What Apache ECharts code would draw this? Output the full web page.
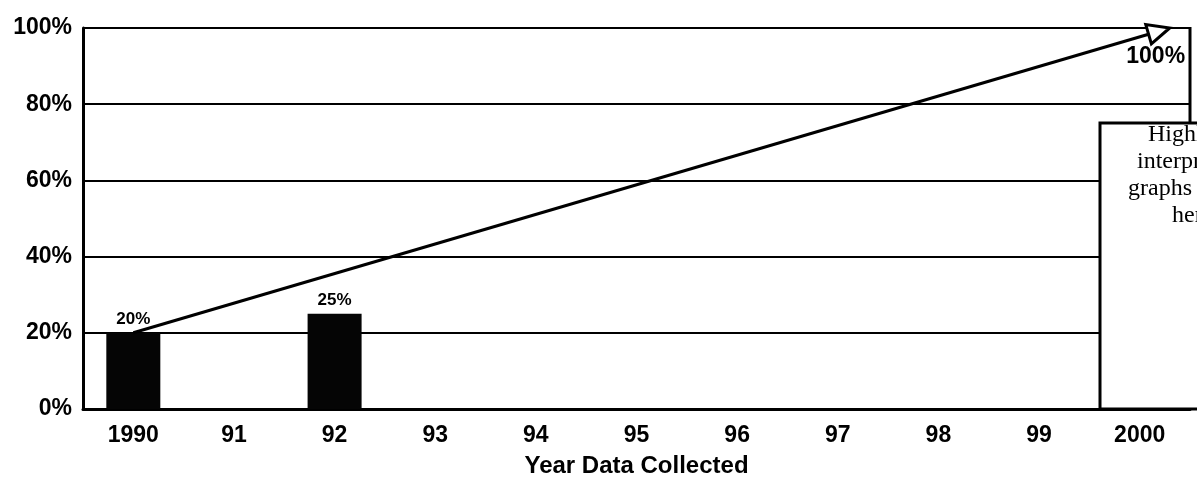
<!DOCTYPE html>
<html>
<head>
<meta charset="utf-8">
<script src="https://cdn.jsdelivr.net/npm/echarts@6/dist/echarts.min.js"></script>
<style>
  html, body { margin: 0; padding: 0; background: #fff; }
  #chart { width: 1197px; height: 486px; }
</style>
</head>
<body>
<div id="chart"></div>
<script>
// Survey years on the horizontal axis
const years = ['1990', '91', '92', '93', '94', '95', '96', '97', '98', '99', '2000'];
// Share of data collected in each year (percent); '-' = no bar
const collected = [20, '-', 25, '-', '-', '-', '-', '-', '-', '-', '-'];
// Projected trend: from the first survey to the 2000 target
const trendYears = ['1990', '2000'];
const trendValues = [20, 100];
// Value axis ticks (percent)
const yTicks = [0, 20, 40, 60, 80, 100];
// Side note text, one entry per line
const noteLines = ['Highlight', 'interpretive', 'graphs shown', 'here.'];

const SANS = '"Liberation Sans", Arial, Helvetica, sans-serif';
const SERIF = '"Liberation Serif", "Times New Roman", serif';

const chart = echarts.init(document.getElementById('chart'), null, { renderer: 'canvas' });

const trendItem = [
  years.indexOf(trendYears[0]), trendValues[0],
  years.indexOf(trendYears[1]), trendValues[1]
];

// Trend arrow: straight segment with a hollow triangular head and an end label
function renderTrend(params, api) {
  const s = api.coord([api.value(0), api.value(1)]);
  const e = api.coord([api.value(2), api.value(3)]);
  const tip = [e[0] + 30, e[1]];
  const dx = tip[0] - s[0], dy = tip[1] - s[1];
  const len = Math.hypot(dx, dy);
  const ux = dx / len, uy = dy / len;
  const nx = -uy, ny = ux;
  const L = 22, W = 10;
  const bx = tip[0] - L * ux, by = tip[1] - L * uy;
  return {
    type: 'group',
    children: [
      {
        type: 'line',
        shape: { x1: s[0], y1: s[1], x2: bx, y2: by },
        style: { stroke: '#000', lineWidth: 3 }
      },
      {
        type: 'polygon',
        shape: { points: [tip, [bx + W * nx, by + W * ny], [bx - W * nx, by - W * ny]] },
        style: { fill: '#fff', stroke: '#000', lineWidth: 3, lineJoin: 'miter' }
      },
      {
        type: 'text',
        style: {
          text: api.value(3) + '%',
          x: e[0] + 16, y: e[1] + 29,
          align: 'center', verticalAlign: 'middle',
          font: 'bold 23px ' + SANS, fill: '#000'
        }
      }
    ]
  };
}

const noteX = [1148, 1137, 1128, 1172];
const noteGraphics = noteLines.map((t, i) => ({
  type: 'text',
  z: 101,
  style: {
    text: t,
    x: noteX[i],
    y: 135 + i * 27,
    verticalAlign: 'middle',
    font: '24px ' + SERIF,
    fill: '#000'
  }
}));

chart.setOption({
  animation: false,
  backgroundColor: '#fff',
  grid: {
    left: 83, top: 28, right: 7, bottom: 77,
    containLabel: false,
    outerBoundsMode: 'none'
  },
  xAxis: {
    type: 'category',
    data: years,
    boundaryGap: true,
    axisLine: { show: true, lineStyle: { color: '#000', width: 3 } },
    axisTick: { show: false },
    axisLabel: {
      color: '#000', fontFamily: SANS, fontWeight: 'bold', fontSize: 23, margin: 15
    },
    splitLine: { show: false },
    name: 'Year Data Collected',
    nameLocation: 'middle',
    nameGap: 45,
    nameTextStyle: { color: '#000', fontFamily: SANS, fontWeight: 'bold', fontSize: 24 }
  },
  yAxis: {
    type: 'value',
    min: yTicks[0],
    max: yTicks[yTicks.length - 1],
    interval: yTicks[1] - yTicks[0],
    axisLine: { show: true, lineStyle: { color: '#000', width: 3 } },
    axisTick: { show: false },
    axisLabel: {
      formatter: '{value}%',
      color: '#000', fontFamily: SANS, fontWeight: 'bold', fontSize: 23, margin: 11
    },
    splitLine: { show: true, lineStyle: { color: '#000', width: 2 } }
  },
  series: [
    {
      type: 'bar',
      data: collected,
      barWidth: 54,
      itemStyle: { color: '#050505' },
      label: {
        show: true,
        position: 'top',
        distance: 5,
        formatter: '{c}%',
        color: '#000', fontFamily: SANS, fontWeight: 'bold', fontSize: 17
      },
      z: 2
    },
    {
      type: 'custom',
      renderItem: renderTrend,
      encode: { x: [0, 2], y: [1, 3] },
      data: [trendItem],
      z: 5
    }
  ],
  graphic: [
    {
      type: 'line', z: 100,
      shape: { x1: 1190, y1: 27, x2: 1190, y2: 124 },
      style: { stroke: '#000', lineWidth: 3 }
    },
    {
      type: 'rect', z: 100,
      shape: { x: 1100, y: 123, width: 150, height: 286 },
      style: { fill: '#fff', stroke: '#000', lineWidth: 3 }
    }
  ].concat(noteGraphics)
});
</script>
</body>
</html>
